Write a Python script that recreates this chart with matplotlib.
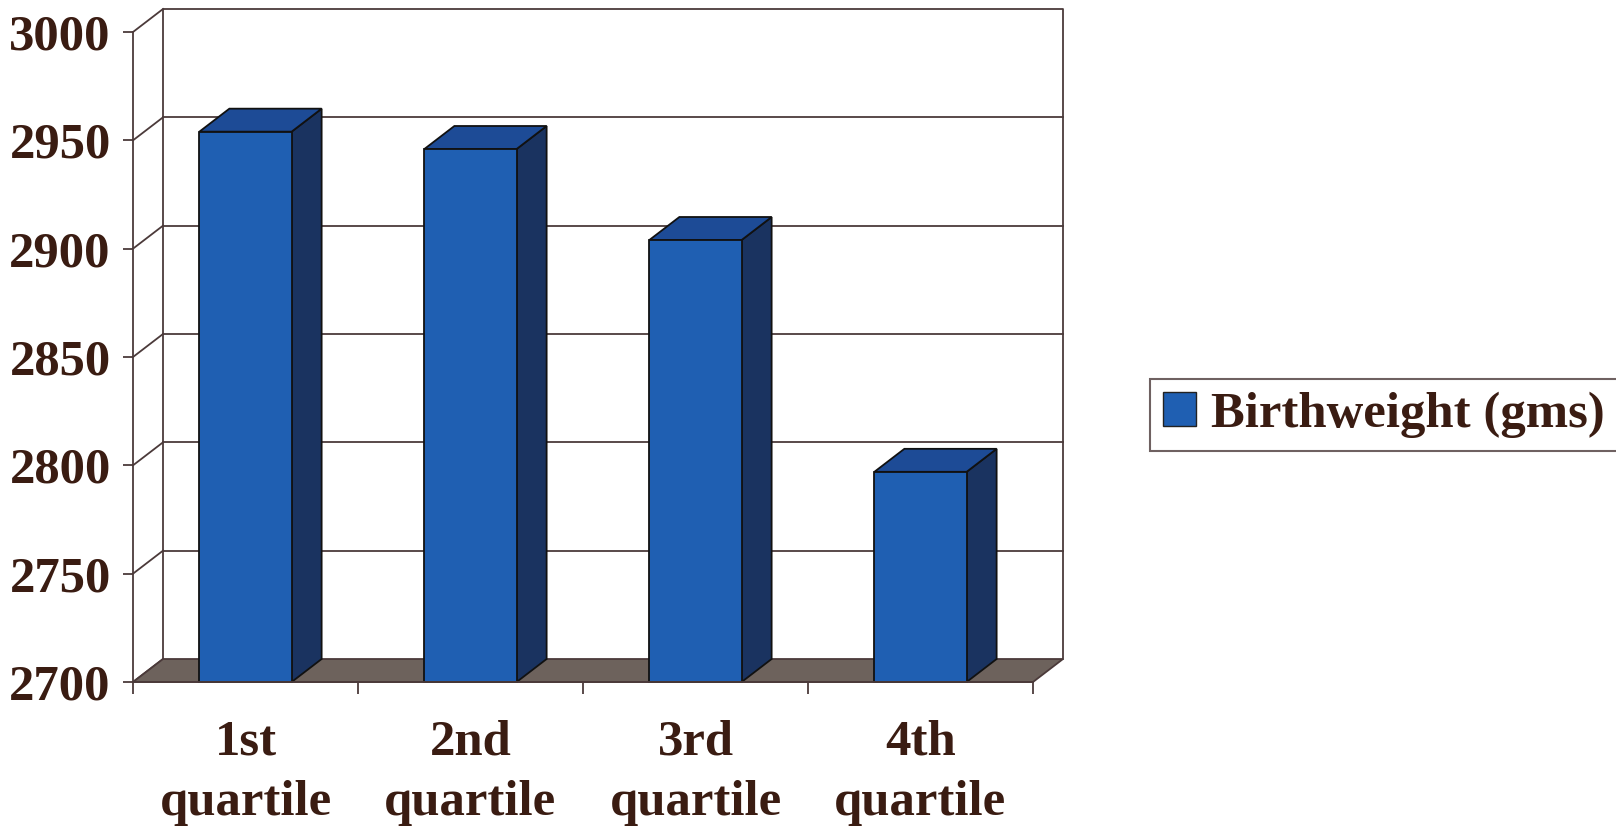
import matplotlib
matplotlib.use("Agg")
import matplotlib.pyplot as plt
from matplotlib.patches import Polygon, Patch
import numpy as np

# Mean birthweight by quartile
categories = ["1st\nquartile", "2nd\nquartile", "3rd\nquartile", "4th\nquartile"]
birthweight = [2954, 2946, 2904, 2797]
series_name = "Birthweight (gms)"
y_ticks = [2700, 2750, 2800, 2850, 2900, 2950, 3000]

TEXT = "#3a1c12"
LINE = "#4b3a3a"
FRONT = "#1f5fb2"
SIDE = "#1a3360"
TOP = "#1d4b96"
FLOOR = "#6d625c"

plt.rcParams["font.family"] = ["Liberation Serif", "DejaVu Serif"]
plt.rcParams["font.weight"] = "bold"

fig = plt.figure(figsize=(16.16, 8.30), dpi=100)
ax = fig.add_axes([133 / 1616, 148 / 830, 900 / 1616, 650 / 830])
ymin, ymax = y_ticks[0], y_ticks[-1]
n = len(categories)
ax.set_xlim(0, n)
ax.set_ylim(ymin, ymax)

# depth of the 3-D box in data units (same pixel offset everywhere)
DX = 30 / 225
DY = 23 / 650 * (ymax - ymin)

lw = 1.3
# back wall outline
ax.plot([DX, DX, n + DX, n + DX], [ymin + DY, ymax + DY, ymax + DY, ymin + DY],
        color=LINE, lw=lw, clip_on=False, zorder=1)
# gridlines on the back wall and the left side wall
for v in y_ticks:
    if v > ymin and v < ymax:
        ax.plot([DX, n + DX], [v + DY, v + DY], color=LINE, lw=lw, clip_on=False, zorder=1)
    ax.plot([0, DX], [v, v + DY], color=LINE, lw=lw, clip_on=False, zorder=1)

# floor
ax.add_patch(Polygon([[0, ymin], [n, ymin], [n + DX, ymin + DY], [DX, ymin + DY]],
                     closed=True, facecolor=FLOOR, edgecolor=LINE, lw=lw,
                     clip_on=False, zorder=2))

# bars: front face, side and top
width = 0.41
xc = np.arange(n) + 0.5
bars = ax.bar(xc, np.array(birthweight) - ymin, bottom=ymin, width=width,
              color=FRONT, edgecolor="#111111", lw=lw, zorder=4, clip_on=False)
for x, v in zip(xc, birthweight):
    xl, xr = x - width / 2, x + width / 2
    ax.add_patch(Polygon([[xr, ymin], [xr + DX, ymin + DY], [xr + DX, v + DY], [xr, v]],
                         closed=True, facecolor=SIDE, edgecolor="#111111", lw=lw,
                         clip_on=False, zorder=3))
    ax.add_patch(Polygon([[xl, v], [xr, v], [xr + DX, v + DY], [xl + DX, v + DY]],
                         closed=True, facecolor=TOP, edgecolor="#111111", lw=lw,
                         clip_on=False, zorder=3))

# axes
for s in ["top", "right"]:
    ax.spines[s].set_visible(False)
for s in ["left", "bottom"]:
    ax.spines[s].set_color(LINE)
    ax.spines[s].set_linewidth(lw)
    ax.spines[s].set_zorder(5)
ax.set_yticks(y_ticks)
ax.set_yticklabels([str(t) for t in y_ticks])
ax.tick_params(axis="y", length=7, width=lw, color=LINE, pad=9,
               labelsize=36.5, labelcolor=TEXT)
ax.set_xticks(np.arange(n + 1))
ax.set_xticklabels([])
ax.set_xticks(xc, minor=True)
ax.set_xticklabels(categories, minor=True, linespacing=1.42)
ax.tick_params(axis="x", which="major", length=8.5, width=lw, color=LINE)
ax.tick_params(axis="x", which="minor", length=0, pad=27,
               labelsize=36.5, labelcolor=TEXT)
ax.patch.set_visible(False)

# legend, its frame running off the right edge of the figure
leg = fig.legend(handles=[Patch(facecolor=FRONT, edgecolor="#222222", lw=1)],
                 labels=[series_name], loc="center left",
                 bbox_to_anchor=(1150 / 1616, 1 - 415 / 830, 480 / 1616, 0),
                 mode="expand",
                 fontsize=36.5, frameon=True, fancybox=False, shadow=False,
                 handlelength=0.66, handleheight=0.66, handletextpad=0.3,
                 borderpad=0.25, borderaxespad=0)
for t in leg.get_texts():
    t.set_color(TEXT)
frame = leg.get_frame()
frame.set_edgecolor(LINE)
frame.set_linewidth(1.5)

fig.savefig("out.png", dpi=100)
